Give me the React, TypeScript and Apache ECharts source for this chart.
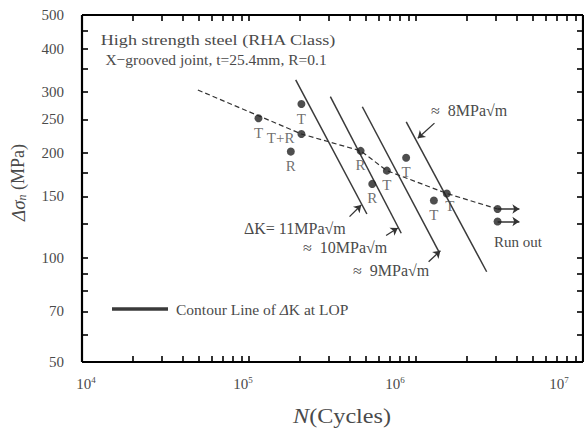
import React, { useEffect, useRef } from "react";
import * as echarts from "echarts";

// ---- axis ticks / labels (real units) ----
const xLabelExponents = [4, 5, 6, 7];
const xMinorMultipliers = [1, 2, 3, 4, 5, 6, 7, 8, 9];
const yTickLabels = [50, 70, 100, 150, 200, 250, 300, 400, 500];
const yMinorTicks = [50, 60, 70, 80, 90, 100, 125, 150, 175, 200, 250, 300, 350, 400, 450, 500];

// ---- test results ----
const testCycles = [1.14e5, 2.06e5, 2.06e5, 1.78e5, 4.66e5, 5.47e5, 6.69e5, 8.73e5, 1.53e6, 1.28e6];
const testStress = [252, 277, 227, 202, 203, 163, 178, 194, 153, 146];
const testFailure = ["T", "T", "T+R", "R", "R", "R", "T", "T", "T", "T"];

// ---- dashed mean line ----
const fitCycles = [4.94e4, 2.06e5, 4.66e5, 6.69e5, 1.53e6, 3.08e6];
const fitStress = [304, 227, 203, 178, 153, 138];

// ---- run outs ----
const runoutCycles = [3.08e6, 3.08e6];
const runoutStress = [138, 127];
const runoutArrowEndCycles = [4.16e6, 4.16e6];

// ---- contour lines of dK at LOP ----
const contourK = [11, 10, 9, 8];
const contourStartCycles = [1.904e5, 3.07e5, 4.77e5, 8.74e5];
const contourStartStress = [325, 291, 272, 246];
const contourEndCycles = [5.08e5, 8.16e5, 1.37e6, 2.65e6];
const contourEndStress = [133.5, 117.5, 104, 91];

// ---- pointer arrows for the contour annotations ----
const pointerTailCycles = [4.0e5, 6.62e5, 1.19e6, 1.29e6];
const pointerTailStress = [131.2, 115.8, 97.3, 244];
const pointerHeadCycles = [4.7e5, 7.78e5, 1.4e6, 1.025e6];
const pointerHeadStress = [141.7, 121.7, 104.6, 220.7];

const lg = (v: number) => Math.log10(v);
const SERIF = '"Liberation Serif", "DejaVu Serif", serif';
const TXT = "#4a4a4a";
const AX = "#000000";

const GRID = { left: 82, right: 1, top: 15, bottom: 72 };
const CHART_W = 584;
const CHART_H = 434;
const TICK_PX = 6;

export default function App() {
  const ref = useRef<HTMLDivElement>(null);
  useEffect(() => {
    if (!ref.current) return;
    const chart = echarts.init(ref.current, null, { renderer: "svg" });

    const xMin = 4;
    const xMax = 7;
    const yMin = lg(50);
    const yMax = lg(500);

    const xMinor: number[] = [];
    for (let e = 4; e < 7; e++) xMinorMultipliers.forEach((m) => xMinor.push(lg(m * Math.pow(10, e))));
    xMinor.push(7);
    const yMinor = yMinorTicks.map(lg);

    const plotW = CHART_W - GRID.left - GRID.right;
    const plotH = CHART_H - GRID.top - GRID.bottom;
    const dx = (TICK_PX * (xMax - xMin)) / plotW;
    const dy = (TICK_PX * (yMax - yMin)) / plotH;

    const frameSegs: any[] = [
      { coords: [[xMin, yMin], [xMax, yMin]] },
      { coords: [[xMin, yMax], [xMax, yMax]] },
      { coords: [[xMin, yMin], [xMin, yMax]] },
      { coords: [[xMax, yMin], [xMax, yMax]] },
    ];
    const tickSegs: any[] = [];
    xMinor.forEach((v) => {
      tickSegs.push({ coords: [[v, yMin], [v, yMin + dy]] });
      tickSegs.push({ coords: [[v, yMax], [v, yMax - dy]] });
    });
    yMinor.forEach((v) => {
      tickSegs.push({ coords: [[xMin, v], [xMin + dx, v]] });
      tickSegs.push({ coords: [[xMax, v], [xMax - dx, v]] });
    });

    const labelShift: Record<number, number> = { 4: -4, 5: 6, 6: 21, 7: 24 };
    const xRich: any = {};
    xLabelExponents.forEach((e) => {
      xRich["b" + e] = { fontFamily: SERIF, fontSize: 15, color: TXT };
      xRich["s" + e] = { fontFamily: SERIF, fontSize: 9, color: TXT, padding: [0, 0, 8, 0] };
      xRich["g" + e] = { width: Math.abs(labelShift[e]) * 2 };
    });

    const hiddenLine = { show: false, onZero: false };
    const hiddenTick = { show: false };

    const option: any = {
      animation: false,
      backgroundColor: "#ffffff",
      grid: { ...GRID, outerBoundsMode: "none", show: false },
      xAxis: [
        {
          type: "value",
          min: xMin,
          max: xMax,
          position: "bottom",
          axisLine: hiddenLine,
          axisTick: hiddenTick,
          splitLine: { show: false },
          axisLabel: {
            customValues: xLabelExponents,
            margin: 13,
            formatter: (v: number) => {
              const e = Math.round(v);
              const s = labelShift[e];
              const body = `{b${e}|10}{s${e}|${e}}`;
              return s < 0 ? `{g${e}| }${body}` : `${body}{g${e}| }`;
            },
            rich: xRich,
          },
        },
      ],
      yAxis: [
        {
          type: "value",
          min: yMin,
          max: yMax,
          position: "left",
          axisLine: hiddenLine,
          axisTick: hiddenTick,
          splitLine: { show: false },
          axisLabel: {
            customValues: yTickLabels.map(lg),
            margin: 18,
            fontFamily: SERIF,
            fontSize: 15,
            color: TXT,
            formatter: (v: number) => String(Math.round(Math.pow(10, v))),
          },
          name: "{i|Δσ}{sub|n}{r| (MPa)}",
          nameLocation: "middle",
          nameRotate: 90,
          nameGap: 54,
          nameTextStyle: {
            padding: [0, 0, 0, 12],
            rich: {
              i: { fontFamily: SERIF, fontStyle: "italic", fontSize: 19, color: TXT },
              sub: { fontFamily: SERIF, fontStyle: "italic", fontSize: 12, color: TXT, padding: [8, 0, 0, 0] },
              r: { fontFamily: SERIF, fontSize: 18, color: TXT },
            },
          },
        },
      ],
      legend: {
        show: true,
        left: 107,
        top: 296,
        data: ["Contour Line of ΔK at LOP"],
        icon: "rect",
        itemWidth: 54,
        itemHeight: 1.5,
        formatter: () => "Contour Line of {i|Δ}K at LOP",
        textStyle: {
          fontFamily: SERIF,
          fontSize: 15.5,
          color: TXT,
          padding: [0, 0, 0, 4],
          rich: {
            i: { fontFamily: SERIF, fontStyle: "italic", fontSize: 15.5, color: TXT },
          },
        },
      },
      graphic: [
        {
          type: "text",
          x: 218,
          y: 40,
          scaleX: 1.17,
          style: { text: "High strength steel (RHA Class)", fill: TXT, font: `15.5px ${SERIF}`, align: "center", verticalAlign: "middle" },
        },
        {
          type: "text",
          x: 216,
          y: 59,
          style: { text: "X−grooved joint, t=25.4mm, R=0.1", fill: TXT, font: `15.5px ${SERIF}`, align: "center", verticalAlign: "middle" },
        },
        {
          type: "text",
          x: 342,
          y: 416,
          scaleX: 1.15,
          style: {
            text: "{i|N}{r|(Cycles)}",
            align: "center",
            verticalAlign: "middle",
            rich: {
              i: { fontFamily: SERIF, fontStyle: "italic", fontSize: 21, fill: TXT },
              r: { fontFamily: SERIF, fontSize: 21, fill: TXT },
            },
          },
        },
        {
          type: "text",
          x: 431,
          y: 110,
          style: { text: "≈  8MPa√m", fill: TXT, font: `16px ${SERIF}`, align: "left", verticalAlign: "middle" },
        },
        {
          type: "text",
          x: 244,
          y: 228,
          style: { text: "ΔK= 11MPa√m", fill: TXT, font: `16px ${SERIF}`, align: "left", verticalAlign: "middle" },
        },
        {
          type: "text",
          x: 303,
          y: 247,
          style: { text: "≈  10MPa√m", fill: TXT, font: `16px ${SERIF}`, align: "left", verticalAlign: "middle" },
        },
        {
          type: "text",
          x: 353,
          y: 270,
          style: { text: "≈  9MPa√m", fill: TXT, font: `16px ${SERIF}`, align: "left", verticalAlign: "middle" },
        },
        {
          type: "text",
          x: 494,
          y: 242,
          style: { text: "Run out", fill: TXT, font: `15px ${SERIF}`, align: "left", verticalAlign: "middle" },
        },
      ],
      series: [
        {
          type: "lines",
          name: "frame",
          coordinateSystem: "cartesian2d",
          clip: false,
          silent: true,
          data: frameSegs,
          lineStyle: { color: AX, width: 2.2, opacity: 1 },
          symbol: "none",
          z: 10,
        },
        {
          type: "lines",
          name: "ticks",
          coordinateSystem: "cartesian2d",
          clip: false,
          silent: true,
          data: tickSegs,
          lineStyle: { color: AX, width: 1.6, opacity: 1 },
          symbol: "none",
          z: 10,
        },
        {
          type: "line",
          name: "mean",
          data: fitCycles.map((n, i) => [lg(n), lg(fitStress[i])]),
          symbol: "none",
          lineStyle: { color: "#333", width: 1.2, type: [5, 3] },
          z: 2,
        },
        {
          type: "lines",
          name: "Contour Line of ΔK at LOP",
          coordinateSystem: "cartesian2d",
          data: contourK.map((k, i) => ({
            name: String(k),
            coords: [
              [lg(contourStartCycles[i]), lg(contourStartStress[i])],
              [lg(contourEndCycles[i]), lg(contourEndStress[i])],
            ],
          })),
          lineStyle: { color: "#3a3a3a", width: 1.5, opacity: 1 },
          symbol: "none",
          z: 3,
        },
        {
          type: "lines",
          name: "pointers",
          coordinateSystem: "cartesian2d",
          data: contourK.map((k, i) => ({
            name: String(k),
            coords: [
              [lg(pointerTailCycles[i]), lg(pointerTailStress[i])],
              [lg(pointerHeadCycles[i]), lg(pointerHeadStress[i])],
            ],
          })),
          lineStyle: { color: "#333", width: 1.3, opacity: 1 },
          symbol: ["none", "arrow"],
          symbolSize: 7,
          z: 3,
        },
        {
          type: "lines",
          name: "runoutArrows",
          coordinateSystem: "cartesian2d",
          data: runoutCycles.map((n, i) => ({
            coords: [
              [lg(n), lg(runoutStress[i])],
              [lg(runoutArrowEndCycles[i]), lg(runoutStress[i])],
            ],
          })),
          lineStyle: { color: "#333", width: 1.5, opacity: 1 },
          symbol: ["none", "arrow"],
          symbolSize: 7,
          z: 3,
        },
        {
          type: "scatter",
          name: "tests",
          symbol: "circle",
          symbolSize: 8,
          itemStyle: { color: "#222" },
          data: testCycles.map((n, i) => {
            const item: any = { value: [lg(n), lg(testStress[i])] };
            if (testFailure[i] === "T+R") item.label = { position: "left", offset: [0, 4] };
            if (i === 8) item.label = { position: "bottom", offset: [3, -2] };
            return item;
          }),
          label: {
            show: true,
            position: "bottom",
            distance: 3,
            fontFamily: SERIF,
            fontSize: 15,
            color: TXT,
            formatter: (p: any) => testFailure[p.dataIndex],
          },
          z: 5,
        },
        {
          type: "scatter",
          name: "runout",
          symbol: "circle",
          symbolSize: 8,
          itemStyle: { color: "#222" },
          data: runoutCycles.map((n, i) => [lg(n), lg(runoutStress[i])]),
          z: 5,
        },
      ],
    };

    chart.setOption(option);
    return () => chart.dispose();
  }, []);

  return <div ref={ref} style={{ width: CHART_W, height: CHART_H, position: "absolute", left: 0, top: 0 }} />;
}
